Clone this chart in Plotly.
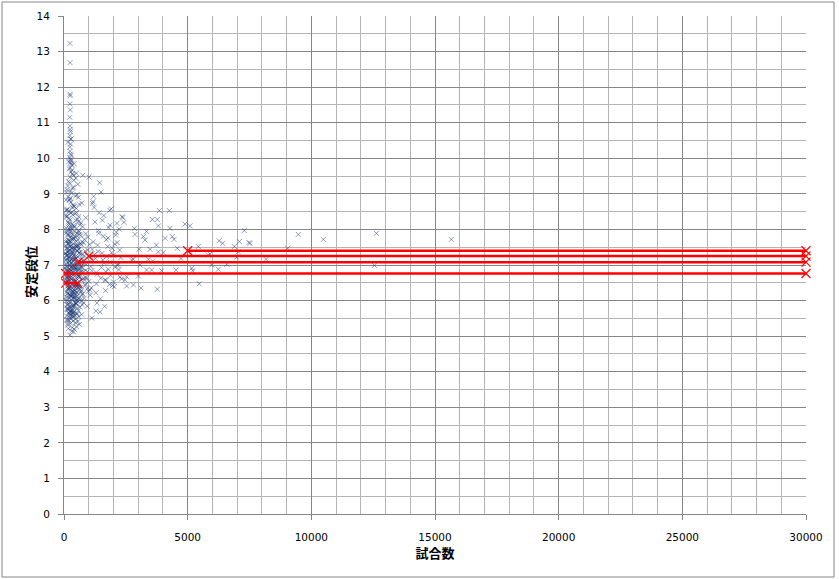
import plotly.graph_objects as go

# ---------------- data ----------------
tail_x = [240, 245, 243, 250, 238, 255, 236, 241, 250, 262, 240, 270, 285, 239, 262, 245, 300, 236, 262, 275,
          300, 320, 250, 215, 330, 270, 350, 290, 410, 260, 500, 190, 380, 160]
tail_y = [13.23, 12.69, 11.80, 11.76, 11.53, 11.36, 11.15, 10.91, 10.81, 10.75, 10.64, 10.54, 10.54, 10.31,
          10.40, 10.20, 10.09, 10.02, 9.97, 9.88, 9.84, 9.80, 9.74, 9.70, 9.66, 9.61, 9.57, 9.93, 9.85, 10.12,
          9.58, 9.90, 9.52, 10.45]

core_x = [240, 310, 180, 420, 150, 500, 270, 360, 620, 200, 460, 130, 330, 560, 290, 390,
          100, 220, 350, 480, 160, 600, 280, 410, 130, 540, 720, 250, 380, 190, 460, 310, 90, 650, 230, 520,
          170, 430, 800, 270, 360, 140, 580, 300, 210, 450, 120, 690, 330, 260, 510, 940,
          60, 180, 290, 410, 530, 670, 820, 150, 240, 370, 480, 610, 760, 930, 110, 210, 330, 440, 570, 700,
          860, 80, 270, 390, 500, 640, 990, 190, 310, 420, 550, 730, 130, 250, 350, 470, 590, 880, 160, 280,
          400, 520, 680, 1050, 230, 340,
          50, 170, 300, 420, 560, 710, 880, 120, 240, 360, 480, 620, 790, 950, 90, 200, 330, 450, 590, 740,
          1010, 140, 260, 380, 510, 650, 830, 70, 190, 310, 430, 570, 690, 920, 110, 230, 350, 470, 600, 760,
          160, 280, 400, 530, 670, 860, 210, 340, 460, 580,
          80, 200, 320, 440, 570, 710, 860, 130, 250, 370, 500, 640, 800, 960, 100, 220, 340, 460, 590, 750,
          900, 60, 180, 300, 420, 540, 680, 830, 150, 270, 390, 510, 650, 990, 110, 230, 350, 480, 610, 780,
          170, 290, 410, 530, 720, 240, 360, 620,
          70, 190, 310, 430, 560, 700, 880, 120, 240, 360, 490, 630, 790, 90, 210, 330, 450, 590, 740, 150,
          270, 390, 520, 660, 970, 100, 230, 350, 470, 610, 820, 170, 290, 410, 540, 680, 60, 260,
          80, 200, 330, 450, 590, 760, 130, 250, 380, 510, 680, 100, 220, 350, 480, 640, 880, 160, 280, 410,
          540, 70, 190, 310, 430, 600,
          90, 210, 340, 470, 620, 140, 260, 390, 530, 720, 110, 230, 360, 500, 170, 290, 420, 80, 200, 580,
          100, 220, 350, 480, 150, 270, 400, 560, 120, 240, 380, 180, 300, 760]
core_y = [5.03, 5.14, 5.21, 5.19, 5.31, 5.27, 5.36, 5.42, 5.33, 5.45, 5.38, 5.47, 5.24, 5.41, 5.49, 5.12,
          5.57, 5.83, 5.62, 5.91, 5.74, 5.55, 5.96, 5.68, 5.88, 5.79, 5.61, 5.52, 5.85, 5.66, 5.93, 5.71, 5.98,
          5.82, 5.59, 5.64, 5.77, 5.87, 5.94, 5.69, 5.53, 5.90, 5.72, 5.81, 5.63, 5.58, 5.75, 5.97, 5.86, 5.60,
          5.92, 5.84,
          6.04, 6.31, 6.12, 6.45, 6.22, 6.38, 6.07, 6.49, 6.16, 6.27, 6.02, 6.41, 6.19, 6.33, 6.24, 6.06, 6.47,
          6.14, 6.36, 6.28, 6.43, 6.11, 6.39, 6.21, 6.48, 6.09, 6.26, 6.35, 6.03, 6.29, 6.44, 6.17, 6.40, 6.13,
          6.25, 6.37, 6.05, 6.46, 6.20, 6.32, 6.10, 6.42, 6.23, 6.30, 6.34, 6.18,
          6.52, 6.78, 6.61, 6.94, 6.70, 6.57, 6.85, 6.66, 6.99, 6.73, 6.55, 6.89, 6.63, 6.81, 6.96, 6.59, 6.75,
          6.87, 6.68, 6.92, 6.54, 6.83, 6.71, 6.97, 6.62, 6.79, 6.58, 6.90, 6.67, 6.84, 6.53, 6.76, 6.95, 6.64,
          6.88, 6.72, 6.56, 6.93, 6.69, 6.80, 6.60, 6.86, 6.74, 6.51, 6.91, 6.65, 6.82, 6.98, 6.77, 6.89,
          7.03, 7.31, 7.15, 7.46, 7.22, 7.08, 7.39, 7.27, 7.12, 7.49, 7.19, 7.35, 7.05, 7.42, 7.25, 7.10, 7.37,
          7.17, 7.44, 7.29, 7.01, 7.33, 7.21, 7.47, 7.13, 7.40, 7.07, 7.26, 7.36, 7.18, 7.43, 7.02, 7.30, 7.23,
          7.48, 7.11, 7.34, 7.20, 7.45, 7.14, 7.38, 7.06, 7.28, 7.41, 7.16, 7.24, 7.32, 7.09,
          7.55, 7.82, 7.63, 7.94, 7.71, 7.58, 7.88, 7.67, 7.99, 7.76, 7.53, 7.86, 7.62, 7.91, 7.69, 7.57, 7.80,
          7.97, 7.65, 7.84, 7.52, 7.74, 7.90, 7.60, 7.78, 7.96, 7.68, 7.85, 7.56, 7.93, 7.72, 7.61, 7.89, 7.75,
          7.54, 7.83, 7.66, 7.79,
          8.04, 8.31, 8.15, 8.44, 8.22, 8.08, 8.38, 8.27, 8.11, 8.47, 8.19, 8.35, 8.02, 8.41, 8.25, 8.12, 8.33,
          8.21, 8.46, 8.06, 8.29, 8.39, 8.17, 8.49, 8.09, 8.36,
          8.53, 8.81, 8.62, 8.94, 8.71, 8.57, 8.88, 8.66, 8.98, 8.74, 8.55, 8.85, 8.69, 8.59, 8.92, 8.77, 8.64,
          8.83, 8.51, 8.90,
          9.05, 9.31, 9.16, 9.44, 9.22, 9.08, 9.38, 9.27, 9.12, 9.47, 9.19, 9.35, 9.02, 9.52]

# extra points filling the densest part of the cloud (x < 900, y 5.3 - 8.2)
dense_x = [120, 260, 400, 180, 330, 470, 90, 220, 370, 510, 150, 290, 440, 60, 200, 350, 480, 130, 270, 410,
           560, 100, 240, 380, 520, 170, 310, 450, 80, 210, 340, 490, 140, 280, 420, 600, 110, 250, 390, 530,
           190, 320, 460, 70, 230, 360, 500, 160, 300, 430, 640, 120, 260, 400, 550, 200, 340, 470, 90, 230,
           310, 150, 520, 380, 70, 610, 250, 440, 180, 700, 330, 100, 560, 270, 480, 140, 390, 660, 220, 510,
           350, 120, 590, 290, 460, 190, 740, 410, 80, 530, 240, 370, 160, 640, 300, 450, 110, 580, 260, 420]
dense_y = [5.44, 5.71, 6.08, 6.37, 6.62, 6.91, 7.18, 7.43, 5.86, 6.24, 6.55, 6.83, 7.07, 7.33, 7.61, 5.58,
           5.93, 6.19, 6.48, 6.74, 7.02, 7.27, 7.52, 5.66, 6.01, 6.33, 6.59, 6.87, 7.14, 7.39, 7.72, 5.49,
           5.79, 6.13, 6.41, 6.68, 6.97, 7.23, 7.48, 5.62, 5.98, 6.27, 6.53, 6.79, 7.09, 7.36, 7.66, 5.36,
           5.74, 6.05, 6.31, 6.64, 6.93, 7.21, 7.56, 5.89, 6.16, 6.45, 6.71, 7.00,
           6.93, 7.87, 6.12, 5.81, 6.58, 7.34, 8.07, 6.29, 7.58, 6.81, 5.67, 7.11, 6.43, 7.95, 5.94, 6.71,
           7.26, 6.02, 8.14, 6.88, 5.73, 7.47, 6.36, 6.95, 6.21, 7.69, 5.88, 7.02, 6.51, 7.81, 6.17, 5.56,
           7.38, 6.66, 8.02, 6.09, 6.84, 7.53, 6.39, 7.15]

mid_x = [1050, 1120, 1180, 1250, 1310, 1380, 1440, 1520, 1590, 1660, 1730, 1810, 1880, 1950, 2030, 2110, 2190,
         2270, 2350,
         1080, 1150, 1230, 1290, 1360, 1420, 1490, 1570, 1640, 1710, 1790, 1860, 1930, 2010, 2090, 2170, 2250,
         2330,
         1030, 1100, 1200, 1270, 1340, 1410, 1470, 1550, 1620, 1690, 1770, 1840, 1910, 1990, 2070, 2150, 2230,
         1060, 1140, 1220, 1300, 1390, 1460, 1540, 1610, 1700, 1780, 1870, 1960, 2050, 2140, 2220, 2300,
         1010, 1170, 1330, 1500, 1680, 1850]
mid_y = [7.12, 6.84, 7.65, 8.21, 6.47, 7.38, 9.31, 6.93, 7.81, 6.58, 7.24, 8.05, 6.71, 7.47, 6.39, 7.92, 7.03,
         6.66, 8.36,
         6.95, 8.73, 7.29, 6.22, 7.56, 8.47, 6.63, 7.14, 5.84, 7.71, 6.88, 8.12, 7.35, 6.52, 7.84, 6.99, 7.42,
         6.61,
         7.58, 6.36, 8.93, 7.18, 6.74, 7.89, 6.05, 8.26, 7.06, 6.81, 7.52, 6.45, 8.58, 7.27, 6.94, 7.63, 8.01,
         6.15, 7.44, 8.62, 6.79, 7.97, 5.68, 7.33, 8.39, 6.57, 7.76, 7.08, 6.42, 7.59, 8.17, 6.87, 7.21,
         9.47, 8.78, 5.93, 9.05, 6.28, 8.54]

far_x = [2375, 2425, 2845, 2870, 3340, 3210, 3275, 2805, 2735, 3035, 3480, 3410, 3585, 3075, 3340, 3545, 3950,
         3115, 2805, 2535, 2465, 2535, 3005, 3775, 3855, 4260, 3570, 3775, 4890, 5095, 3815, 4285, 4085, 4380,
         4450, 3735, 4580, 3815, 4015, 4730, 4530, 5165, 5205, 5430, 5905, 5835, 5970, 6240, 6580, 6270, 6415,
         7090, 7480, 6890, 7050, 6980, 7290, 5470, 9475, 10490, 12630, 15660, 9045, 8170, 12550, 7520, 1290,
         1120]
far_y = [8.33, 8.20, 8.03, 7.86, 7.94, 7.80, 7.70, 7.16, 7.14, 7.44, 7.44, 7.16, 7.11, 7.00, 6.86, 6.86, 6.84,
         6.35, 6.44, 6.41, 6.58, 6.67, 6.69, 6.32, 8.53, 8.53, 8.28, 8.28, 8.15, 8.10, 8.10, 8.03, 7.75, 7.80,
         7.72, 7.56, 7.47, 7.37, 7.35, 7.18, 6.86, 6.91, 6.84, 7.52, 7.31, 7.28, 7.00, 6.88, 7.02, 7.68, 7.61,
         7.66, 7.63, 7.52, 7.37, 7.22, 7.97, 6.47, 7.86, 7.72, 7.89, 7.72, 7.47, 7.16, 6.99, 7.61, 5.71, 5.51]

# red reference lines: start x, end x, level
ref_x0 = [70, 70, 560, 1000, 5000]
ref_x1 = [560, 30000, 30000, 30000, 30000]
ref_y = [6.49, 6.76, 7.08, 7.25, 7.40]

x_ticks = [0, 5000, 10000, 15000, 20000, 25000, 30000]
y_ticks = list(range(0, 15))

# ---------------- figure ----------------
fig = go.Figure()

all_x = tail_x + core_x + dense_x + mid_x + far_x
all_y = tail_y + core_y + dense_y + mid_y + far_y
fig.add_trace(go.Scatter(
    x=all_x, y=all_y, mode="markers", showlegend=False,
    marker=dict(symbol="x-thin", size=5,
                line=dict(width=1, color="rgba(31,60,120,0.5)")),
))

for x0, x1, yv in zip(ref_x0, ref_x1, ref_y):
    fig.add_trace(go.Scatter(
        x=[x0, x1], y=[yv, yv], mode="lines+markers", showlegend=False,
        cliponaxis=False,
        line=dict(color="#ff0000", width=2.5),
        marker=dict(symbol="x-thin", size=9, line=dict(width=1.2, color="#ff0000")),
    ))

major = "#868686"
minor = "#b4b4b4"
tickfont = dict(family="DejaVu Sans, Verdana, sans-serif", size=10.5, color="#000000")
titlefont = dict(family="Noto Sans CJK JP", size=13, color="#000000")

fig.update_layout(
    width=839, height=579,
    margin=dict(l=64, r=33, t=16, b=65, autoexpand=False),
    paper_bgcolor="white", plot_bgcolor="white",
    xaxis=dict(
        range=[0, 30000], tickvals=x_ticks, ticktext=[str(v) for v in x_ticks],
        automargin=False,
        showgrid=True, gridcolor=major, gridwidth=1,
        minor=dict(dtick=1000, tick0=0, showgrid=True, gridcolor=minor, gridwidth=1, ticks=""),
        showline=True, linecolor=major, linewidth=1,
        ticks="outside", ticklen=5, tickcolor=major,
        ticklabelstandoff=8, tickfont=tickfont, zeroline=False,
        title=dict(text="<b>試合数</b>", standoff=4, font=titlefont),
    ),
    yaxis=dict(
        range=[0, 14], tickvals=y_ticks, ticktext=[str(v) for v in y_ticks],
        automargin=False,
        showgrid=True, gridcolor=major, gridwidth=1,
        minor=dict(dtick=0.5, tick0=0, showgrid=True, gridcolor=minor, gridwidth=1, ticks=""),
        showline=True, linecolor=major, linewidth=1,
        ticks="outside", ticklen=5, tickcolor=major,
        ticklabelstandoff=6, tickfont=tickfont, zeroline=False,
    ),
    annotations=[dict(text="<b>安定段位</b>", xref="paper", yref="paper",
                      x=(30 - 64) / 742, y=(514 - 272) / 498, textangle=-90,
                      showarrow=False, font=titlefont, xanchor="center", yanchor="middle")],
    shapes=[dict(type="rect", xref="paper", yref="paper",
                 x0=(2 - 64) / 742, x1=(834 - 64) / 742,
                 y0=(514 - 577) / 498, y1=(514 - 2) / 498,
                 line=dict(color=major, width=1), fillcolor="rgba(0,0,0,0)", layer="below")],
)

fig.write_html("out.html",
               config={"displayModeBar": False},
               post_script="document.body.style.margin='0';document.body.style.padding='0';")
